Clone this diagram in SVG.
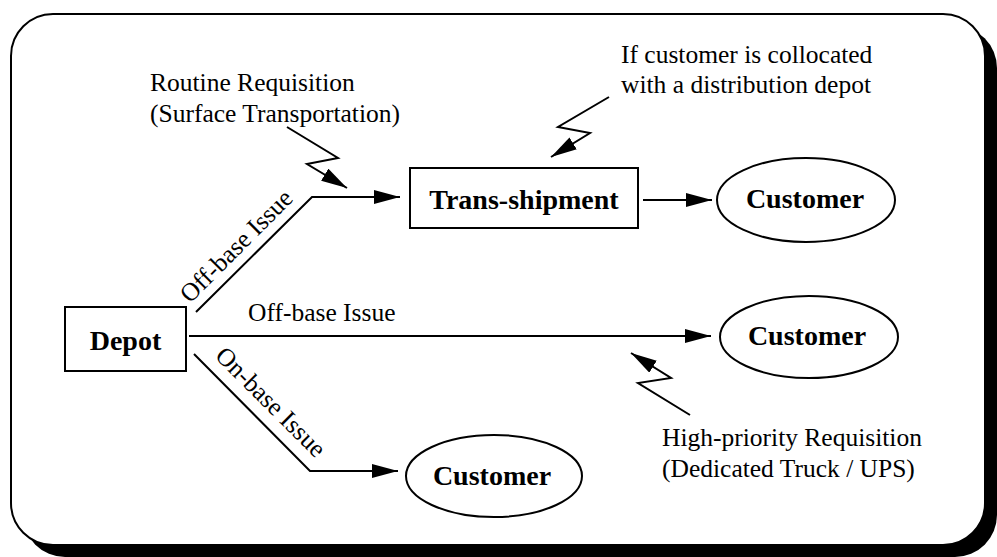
<svg xmlns="http://www.w3.org/2000/svg" width="997" height="557" viewBox="0 0 997 557">
<style>
  .t { font-family: "Liberation Serif", "Times New Roman", serif; font-size: 25.5px; fill: #000; }
  .b { font-family: "Liberation Serif", "Times New Roman", serif; font-size: 28px; font-weight: bold; fill: #000; text-anchor: middle; }
  .shape { fill: #fff; stroke: #000; stroke-width: 2; }
  .line { fill: none; stroke: #000; stroke-width: 2; }
</style>
<defs>
  <marker id="arr" markerUnits="userSpaceOnUse" markerWidth="28" markerHeight="16" refX="26" refY="7" orient="auto">
    <path d="M0,0 L26,7 L0,14 Z" fill="#000"/>
  </marker>
</defs>
<rect width="997" height="557" fill="#fff"/>
<g id="frame">
  <rect x="23" y="26" width="974" height="531" rx="42" ry="42" fill="#000"/>
  <rect x="11" y="14" width="974" height="531" rx="42" ry="42" class="shape"/>
</g>
<g id="depot">
  <rect x="65" y="307" width="121" height="64" class="shape"/>
  <text x="125.5" y="350" class="b">Depot</text>
</g>
<g id="transshipment">
  <rect x="410" y="168" width="228" height="60" class="shape"/>
  <text x="524" y="209" class="b">Trans-shipment</text>
</g>
<g id="customer1">
  <ellipse cx="806" cy="200" rx="89" ry="42" class="shape"/>
  <text x="805" y="208" class="b">Customer</text>
</g>
<g id="customer2">
  <ellipse cx="809" cy="337" rx="89" ry="41" class="shape"/>
  <text x="807" y="345" class="b">Customer</text>
</g>
<g id="customer3">
  <ellipse cx="494" cy="476" rx="88" ry="41" class="shape"/>
  <text x="492" y="485" class="b">Customer</text>
</g>
<g id="connectors">
  <polyline points="196,312 312,197 400,197" class="line" marker-end="url(#arr)"/>
  <line x1="189" y1="336" x2="711" y2="336" class="line" marker-end="url(#arr)"/>
  <polyline points="194,354 310,471 398,471" class="line" marker-end="url(#arr)"/>
  <line x1="643" y1="200" x2="712" y2="200" class="line" marker-end="url(#arr)"/>
  <polyline points="287,127 338,158 307,164 347,188" class="line" marker-end="url(#arr)"/>
  <polyline points="609,97 558,127 590,133 551,157" class="line" marker-end="url(#arr)"/>
  <polyline points="690,415 638,383 671,378 631,353" class="line" marker-end="url(#arr)"/>
</g>
<g id="labels">
  <text class="t" transform="translate(190,304) rotate(-45)">Off-base Issue</text>
  <text class="t" x="248" y="321">Off-base Issue</text>
  <text class="t" transform="translate(214,357) rotate(45)">On-base Issue</text>
  <text class="t" x="150" y="91">Routine Requisition</text>
  <text class="t" x="150" y="122">(Surface Transportation)</text>
  <text class="t" x="621" y="63">If customer is collocated</text>
  <text class="t" x="621" y="93">with a distribution depot</text>
  <text class="t" x="662" y="446">High-priority Requisition</text>
  <text class="t" x="662" y="477">(Dedicated Truck / UPS)</text>
</g>
</svg>
